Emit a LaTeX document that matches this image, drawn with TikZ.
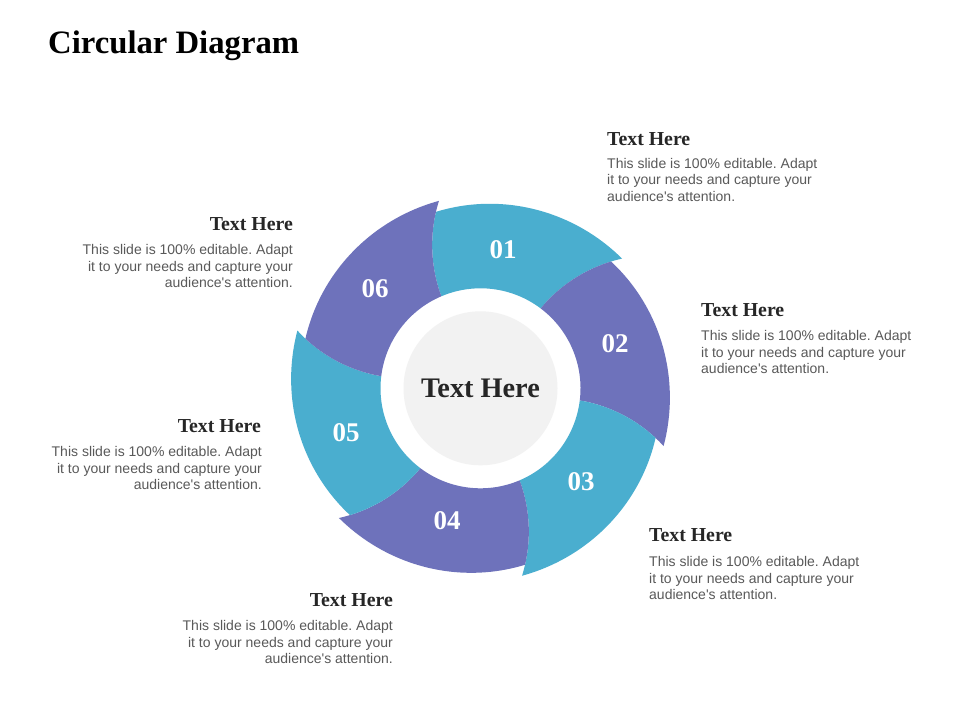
\documentclass[tikz,border=0pt]{standalone}
\usepackage{fontspec}
\setmainfont{Liberation Serif}
\newfontfamily\bodyfont{Liberation Sans}
\definecolor{segteal}{HTML}{4AAECF}
\definecolor{segpurple}{HTML}{6E72BB}
\definecolor{bodygray}{HTML}{595959}
\definecolor{headdark}{HTML}{262626}
\definecolor{hubgray}{HTML}{F2F2F2}
\frenchspacing
\begin{document}
\begin{tikzpicture}[x=1pt,y=1pt,
  numlabel/.style={text=white, font=\fontsize{27}{32}\selectfont\bfseries, inner sep=0},
  headtxt/.style={text=headdark, font=\fontsize{19.8}{23}\selectfont\bfseries, inner sep=0},
  bodytxt/.style={text=bodygray, font=\bodyfont\fontsize{14}{16.7}\selectfont, inner sep=0},
  hubtxt/.style={text=headdark, font=\fontsize{28.3}{33}\selectfont\bfseries, inner sep=0},
  titletxt/.style={text=black, font=\fontsize{32.7}{38}\selectfont\bfseries, inner sep=0}]
\useasboundingbox (0,0) rectangle (960,720);
\fill[white] (0,0) rectangle (960,720);

\node[titletxt, anchor=base west] (title) at (48,666.5) {Circular Diagram};

\begin{scope}[shift={(480.5,331.7)}]
  \fill[hubgray] (0,0) circle[radius=77];
  \foreach \k/\col in {1/segteal,2/segpurple,3/segteal,4/segpurple,5/segteal,6/segpurple}{
    \pgfmathsetmacro\a{53-60*(\k-1)}
    \pgfmathsetmacro\b{\a+60}
    \fill[\col] plot[domain=100:182,samples=30,variable=\q] ({\b-10.5*((\q-100)/92)*sqrt((\q-100)/92)}:{\q})
      -- plot[domain=0:1,samples=40,variable=\q] ({\b-8.83-61.67*\q}:{182+10*\q})
      -- plot[domain=192:100,samples=30,variable=\q] ({\a-10.5*((\q-100)/92)*sqrt((\q-100)/92)}:{\q})
      arc[start angle=\a, end angle=\b, radius=100] -- cycle;
  }
  \node[hubtxt] (hub) at (0,0) {Text Here};
\end{scope}

\node[numlabel] (n1) at (503,470) {01};
\node[numlabel] (n2) at (615,376) {02};
\node[numlabel] (n3) at (581,238) {03};
\node[numlabel] (n4) at (447,199) {04};
\node[numlabel] (n5) at (346,287) {05};
\node[numlabel] (n6) at (375,431) {06};

% block 1 (top right)
\node[headtxt, anchor=base west] (h1) at (607,574) {Text Here};
\node[bodytxt, anchor=north west, align=left] (b1) at (607,562.3) {This slide is 100\% editable. Adapt\\it to your needs and capture your\\audience's attention.};
% block 2 (right)
\node[headtxt, anchor=base west] (h2) at (701,403) {Text Here};
\node[bodytxt, anchor=north west, align=left] (b2) at (701,390) {This slide is 100\% editable. Adapt\\it to your needs and capture your\\audience's attention.};
% block 3 (lower right)
\node[headtxt, anchor=base west] (h3) at (649,178) {Text Here};
\node[bodytxt, anchor=north west, align=left] (b3) at (649,164) {This slide is 100\% editable. Adapt\\it to your needs and capture your\\audience's attention.};
% block 4 (bottom)
\node[headtxt, anchor=base east] (h4) at (393,114) {Text Here};
\node[bodytxt, anchor=north east, align=right] (b4) at (393,100) {This slide is 100\% editable. Adapt\\it to your needs and capture your\\audience's attention.};
% block 5 (left)
\node[headtxt, anchor=base east] (h5) at (261,287) {Text Here};
\node[bodytxt, anchor=north east, align=right] (b5) at (262,274) {This slide is 100\% editable. Adapt\\it to your needs and capture your\\audience's attention.};
% block 6 (upper left)
\node[headtxt, anchor=base east] (h6) at (293,489) {Text Here};
\node[bodytxt, anchor=north east, align=right] (b6) at (293,476) {This slide is 100\% editable. Adapt\\it to your needs and capture your\\audience's attention.};
\end{tikzpicture}
\end{document}
